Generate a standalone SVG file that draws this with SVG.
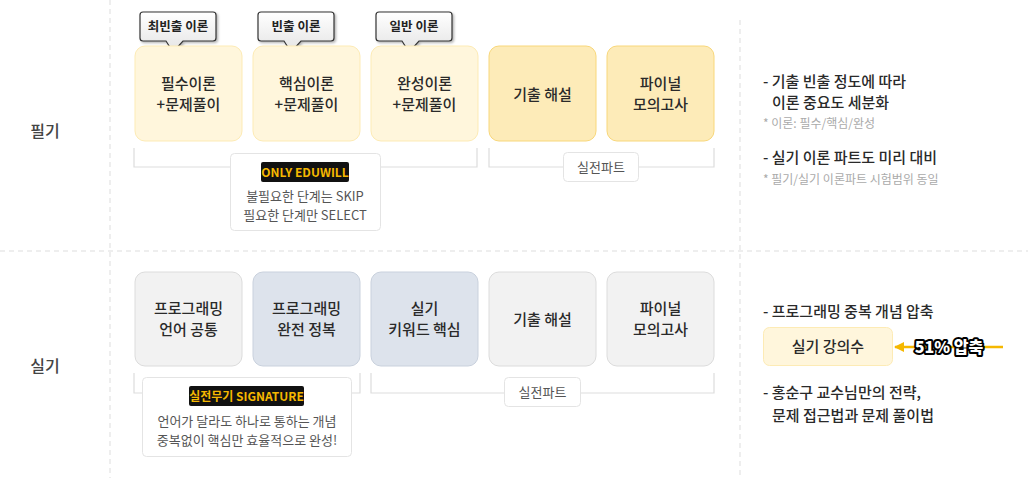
<svg xmlns="http://www.w3.org/2000/svg" width="1028" height="478" viewBox="0 0 1028 478">
<defs>
<linearGradient id="bub" x1="0" y1="0" x2="0" y2="1"><stop offset="0" stop-color="#ffffff"/><stop offset="1" stop-color="#e4e4e4"/></linearGradient>
<filter id="sh" x="-20%" y="-20%" width="150%" height="160%"><feDropShadow dx="1.5" dy="1.5" stdDeviation="1" flood-color="#000" flood-opacity="0.3"/></filter>
<marker id="ah" viewBox="0 0 10 10" refX="9" refY="5" markerWidth="10" markerHeight="10" markerUnits="userSpaceOnUse" orient="auto"><path d="M0,0 L10,5 L0,10 z" fill="#f5b800"/></marker>
<style>
text{font-family:"Noto Sans CJK KR","Noto Sans",sans-serif;fill:#333}
.n{font-size:15px;text-anchor:middle;font-weight:500;fill:#2a2a2a}
.lbl{font-size:16px;text-anchor:middle;fill:#444;font-weight:500}
.r{font-size:15px;font-weight:500;fill:#2a2a2a}
.g{font-size:12px;fill:#aaa}
.s{font-size:13px;text-anchor:middle;fill:#555}
.bt{font-size:12.5px;text-anchor:middle;font-weight:bold;fill:#222}
.div{stroke:#ddd;stroke-width:1;stroke-dasharray:5 4;fill:none}
.br{stroke:#ddd;stroke-width:1.2;fill:none}
.y1{fill:#fff6dc;stroke:#fdebb5;stroke-width:1}
.y2{fill:#fdebb8;stroke:#f8d77a;stroke-width:1}
.gr{fill:#f2f2f2;stroke:#dcdcdc;stroke-width:1}
.bl{fill:#dde3ec;stroke:#c9d1dd;stroke-width:1}
.tag{fill:#fff;stroke:#e4e4e4;stroke-width:1}
.bub{fill:url(#bub);stroke:#333;stroke-width:1.2}
</style>
</defs>
<rect width="1028" height="478" fill="#fff"/>
<g id="dividers">
<line class="div" x1="110" y1="0" x2="110" y2="478"/>
<line class="div" x1="740" y1="20" x2="740" y2="478"/>
<line class="div" x1="0" y1="251" x2="1028" y2="251"/>
</g>
<text class="lbl" x="45" y="137">필기</text>
<text class="lbl" x="45" y="372">실기</text>

<g id="connectors">
<path class="br" d="M134,148 V167 H477 V148"/>
<path class="br" d="M489,148 V167 H714 V148"/>
<path class="br" d="M134,373 V393 H360 V373"/>
<path class="br" d="M371,373 V393 H714 V373"/>
<line x1="1003" y1="347" x2="895" y2="347" stroke="#f5b800" stroke-width="2.5" marker-end="url(#ah)"/>
</g>

<g id="bubble1" filter="url(#sh)"><path class="bub" d="M143,12 H213 a3,3 0 0 1 3,3 V38 a3,3 0 0 1 -3,3 H183 L173,52 L166,41 H143 a3,3 0 0 1 -3,-3 V15 a3,3 0 0 1 3,-3 z"/></g>
<text class="bt" x="178" y="31">최빈출 이론</text>
<g id="bubble2" filter="url(#sh)"><path class="bub" d="M261,12 H331 a3,3 0 0 1 3,3 V38 a3,3 0 0 1 -3,3 H301 L291,52 L284,41 H261 a3,3 0 0 1 -3,-3 V15 a3,3 0 0 1 3,-3 z"/></g>
<text class="bt" x="296" y="31">빈출 이론</text>
<g id="bubble3" filter="url(#sh)"><path class="bub" d="M379,12 H449 a3,3 0 0 1 3,3 V38 a3,3 0 0 1 -3,3 H419 L409,52 L402,41 H379 a3,3 0 0 1 -3,-3 V15 a3,3 0 0 1 3,-3 z"/></g>
<text class="bt" x="414" y="31">일반 이론</text>

<g id="p1"><rect class="y1" x="135" y="46" width="107" height="95" rx="10"/><text class="n" x="188.5" y="89">필수이론</text><text class="n" x="188.5" y="110">+문제풀이</text></g>
<g id="p2"><rect class="y1" x="253" y="46" width="107" height="95" rx="10"/><text class="n" x="306.5" y="89">핵심이론</text><text class="n" x="306.5" y="110">+문제풀이</text></g>
<g id="p3"><rect class="y1" x="371" y="46" width="107" height="95" rx="10"/><text class="n" x="424.5" y="89">완성이론</text><text class="n" x="424.5" y="110">+문제풀이</text></g>
<g id="p4"><rect class="y2" x="489" y="46" width="107" height="95" rx="10"/><text class="n" x="542.5" y="100">기출 해설</text></g>
<g id="p5"><rect class="y2" x="607" y="46" width="107" height="95" rx="10"/><text class="n" x="660.5" y="89">파이널</text><text class="n" x="660.5" y="110">모의고사</text></g>

<g id="note1"><rect class="tag" x="230.5" y="153.5" width="150" height="77" rx="4"/>
<rect x="261" y="162" width="88" height="20" rx="2" fill="#111"/>
<text x="305" y="177" style="font-size:12px;text-anchor:middle;font-weight:bold;fill:#f5b800">ONLY EDUWILL</text>
<text class="s" x="305" y="201">불필요한 단계는 SKIP</text>
<text class="s" x="305" y="220">필요한 단계만 SELECT</text></g>
<g id="tag1"><rect class="tag" x="563.5" y="152.5" width="75" height="29" rx="4"/><text class="s" x="601" y="172">실전파트</text></g>

<g id="s1"><rect class="gr" x="135" y="272" width="107" height="94" rx="10"/><text class="n" x="188.5" y="314">프로그래밍</text><text class="n" x="188.5" y="335">언어 공통</text></g>
<g id="s2"><rect class="bl" x="253" y="272" width="107" height="94" rx="10"/><text class="n" x="306.5" y="314">프로그래밍</text><text class="n" x="306.5" y="335">완전 정복</text></g>
<g id="s3"><rect class="bl" x="371" y="272" width="107" height="94" rx="10"/><text class="n" x="424.5" y="314">실기</text><text class="n" x="424.5" y="335">키워드 핵심</text></g>
<g id="s4"><rect class="gr" x="489" y="272" width="107" height="94" rx="10"/><text class="n" x="542.5" y="325">기출 해설</text></g>
<g id="s5"><rect class="gr" x="607" y="272" width="107" height="94" rx="10"/><text class="n" x="660.5" y="314">파이널</text><text class="n" x="660.5" y="335">모의고사</text></g>

<g id="note2"><rect class="tag" x="142.5" y="377.5" width="209" height="79" rx="4"/>
<rect x="189" y="386" width="115" height="20" rx="2" fill="#111"/>
<text x="246.5" y="401" style="font-size:12px;text-anchor:middle;font-weight:bold;fill:#f5b800">실전무기 SIGNATURE</text>
<text class="s" x="247" y="426">언어가 달라도 하나로 통하는 개념</text>
<text class="s" x="247" y="445">중복없이 핵심만 효율적으로 완성!</text></g>
<g id="tag2"><rect class="tag" x="504.5" y="377.5" width="76" height="29" rx="4"/><text class="s" x="542.5" y="397">실전파트</text></g>

<g id="right1">
<text class="r" x="763" y="87">- 기출 빈출 정도에 따라</text>
<text class="r" x="772" y="108">이론 중요도 세분화</text>
<text class="g" x="763" y="128">* 이론: 필수/핵심/완성</text>
<text class="r" x="763" y="163">- 실기 이론 파트도 미리 대비</text>
<text class="g" x="763" y="184">* 필기/실기 이론파트 시험범위 동일</text>
</g>
<g id="right2">
<text class="r" x="763" y="317">- 프로그래밍 중복 개념 압축</text>
<rect class="y1" x="763.5" y="327.5" width="129" height="38" rx="6"/>
<text class="n" x="828" y="352">실기 강의수</text>
<text x="949" y="353" style="font-size:16px;font-weight:900;text-anchor:middle;fill:#fff;stroke:#000;stroke-width:4;paint-order:stroke;stroke-linejoin:round">51% 압축</text>
<text class="r" x="763" y="398">-  홍순구 교수님만의 전략,</text>
<text class="r" x="772" y="421">문제 접근법과 문제 풀이법</text>
</g>
</svg>
